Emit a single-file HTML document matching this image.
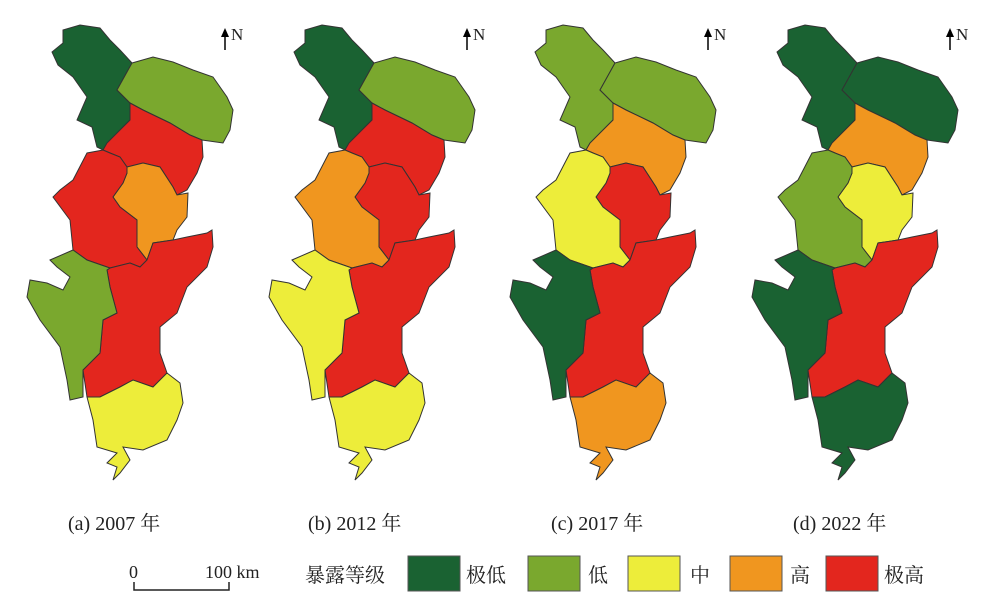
<!DOCTYPE html>
<html><head><meta charset="utf-8"><style>
body{margin:0;background:#fff;width:996px;height:598px;overflow:hidden}
svg{display:block}
text{font-family:"Liberation Serif","Noto Serif CJK SC",serif;fill:#222}
</style></head><body>
<svg width="996" height="598" viewBox="0 0 996 598">
<defs>
<polygon id="r1" points="63,30 80,25 100,28 110,40 120,50 132,63 117,90 130,103 130,120 107,143 103,150 97,147 92,127 77,120 87,97 73,77 58,65 52,52 63,43"/>
<polygon id="r2" points="132,63 153,57 173,62 193,70 213,77 227,97 233,110 230,130 223,143 202,140 190,135 170,123 143,110 130,103 117,90"/>
<polygon id="r3" points="130,103 143,110 170,123 190,135 202,140 203,157 197,173 187,190 177,195 173,187 160,167 143,163 127,167 120,157 110,153 103,150 107,143 130,120"/>
<polygon id="r4" points="127,167 143,163 160,167 173,187 177,195 188,193 187,217 177,230 173,240 153,243 147,260 137,247 137,220 120,207 113,197 123,183 127,173"/>
<polygon id="r5" points="103,150 110,153 120,157 127,167 127,173 123,183 113,197 120,207 137,220 137,247 147,260 140,267 130,263 110,268 87,260 73,250 70,220 53,197 60,190 73,180 87,153"/>
<polygon id="r6" points="147,260 153,243 173,240 187,237 207,233 212,230 213,247 207,267 187,287 177,313 160,327 160,353 167,373 153,387 133,380 120,387 100,397 87,397 83,370 100,353 103,320 117,313 110,287 107,270 110,268 130,263 140,267"/>
<polygon id="r7" points="50,260 73,250 87,260 110,268 107,270 110,287 117,313 103,320 100,353 83,370 83,397 70,400 67,380 60,347 40,320 27,297 30,280 47,283 63,290 70,277 57,267"/>
<polygon id="r8" points="87,397 100,397 120,387 133,380 153,387 167,373 180,383 183,403 177,420 167,440 143,450 123,447 130,460 120,473 113,480 117,467 107,463 117,453 97,447 93,420"/>
<g id="arrow"><line x1="225" y1="50" x2="225" y2="33" stroke="#000" stroke-width="1.5"/><polygon points="221,37 225,28 229,37" fill="#000"/><text x="231" y="40" font-size="17">N</text></g>
</defs>
<g stroke="#333" stroke-width="1">
<g>
<use href="#r1" fill="#1a6232"/><use href="#r2" fill="#7aa82e"/><use href="#r3" fill="#e3261e"/><use href="#r4" fill="#f0961f"/><use href="#r5" fill="#e3261e"/><use href="#r6" fill="#e3261e"/><use href="#r7" fill="#7aa82e"/><use href="#r8" fill="#eded3a"/>
</g>
<g transform="translate(242,0)">
<use href="#r1" fill="#1a6232"/><use href="#r2" fill="#7aa82e"/><use href="#r3" fill="#e3261e"/><use href="#r4" fill="#e3261e"/><use href="#r5" fill="#f0961f"/><use href="#r6" fill="#e3261e"/><use href="#r7" fill="#eded3a"/><use href="#r8" fill="#eded3a"/>
</g>
<g transform="translate(483,0)">
<use href="#r1" fill="#7aa82e"/><use href="#r2" fill="#7aa82e"/><use href="#r3" fill="#f0961f"/><use href="#r4" fill="#e3261e"/><use href="#r5" fill="#eded3a"/><use href="#r6" fill="#e3261e"/><use href="#r7" fill="#1a6232"/><use href="#r8" fill="#f0961f"/>
</g>
<g transform="translate(725,0)">
<use href="#r1" fill="#1a6232"/><use href="#r2" fill="#1a6232"/><use href="#r3" fill="#f0961f"/><use href="#r4" fill="#eded3a"/><use href="#r5" fill="#7aa82e"/><use href="#r6" fill="#e3261e"/><use href="#r7" fill="#1a6232"/><use href="#r8" fill="#1a6232"/>
</g>
</g>
<use href="#arrow"/><use href="#arrow" transform="translate(242,0)"/><use href="#arrow" transform="translate(483,0)"/><use href="#arrow" transform="translate(725,0)"/>
<g font-size="20">
<text x="68" y="530">(a) 2007 年</text>
<text x="308" y="530">(b) 2012 年</text>
<text x="551" y="530">(c) 2017 年</text>
<text x="793" y="530">(d) 2022 年</text>
</g>
<text x="129" y="578" font-size="18">0</text>
<text x="205" y="578" font-size="18">100 km</text>
<polyline points="134,582 134,590 229,590 229,582" fill="none" stroke="#222" stroke-width="1.5"/>
<g font-size="20">
<text x="305" y="582">暴露等级</text>
<rect x="408" y="556" width="52" height="35" fill="#1a6232" stroke="#555"/><text x="466" y="582">极低</text>
<rect x="528" y="556" width="52" height="35" fill="#7aa82e" stroke="#555"/><text x="588" y="582">低</text>
<rect x="628" y="556" width="52" height="35" fill="#eded3a" stroke="#555"/><text x="690" y="582">中</text>
<rect x="730" y="556" width="52" height="35" fill="#f0961f" stroke="#555"/><text x="790" y="582">高</text>
<rect x="826" y="556" width="52" height="35" fill="#e3261e" stroke="#555"/><text x="884" y="582">极高</text>
</g>
</svg>
</body></html>
